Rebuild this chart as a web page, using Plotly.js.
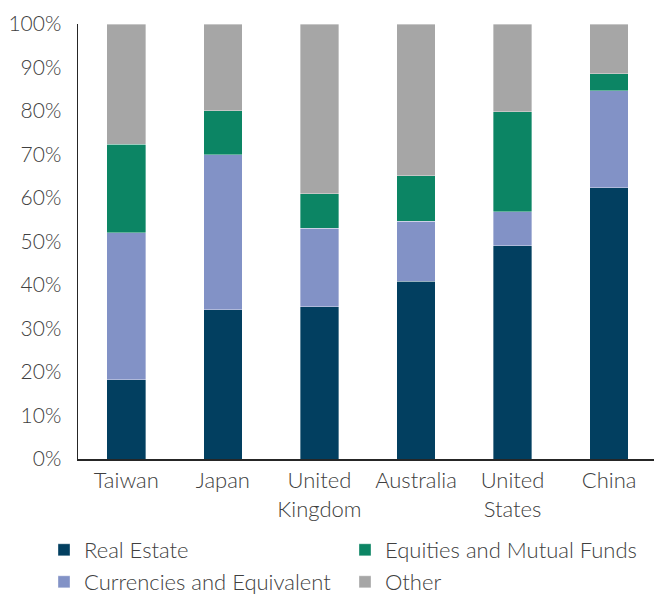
<!DOCTYPE html>
<html>
<head>
<meta charset="utf-8">
<script src="https://cdn.plot.ly/plotly-3.0.1.min.js"></script>
<style>html,body{margin:0;padding:0;background:#fff;}#chart{width:654px;height:596px;}</style>
</head>
<body>
<div id="chart"></div>
<script>
const categories = ["Taiwan", "Japan", "United<br>Kingdom", "Australia", "United<br>States", "China"];
const realEstate = [18.2, 34.3, 35.0, 40.9, 49.0, 62.4];
const currencies = [33.8, 35.7, 18.1, 13.7, 7.8, 22.2];
const equities   = [20.4, 10.1, 7.9, 10.5, 23.0, 4.0];
const other      = [27.6, 19.9, 39.0, 34.9, 20.2, 11.4];
const yTickVals   = [0, 10, 20, 30, 40, 50, 60, 70, 80, 90, 100];
const yTickLabels = ["0%", "10%", "20%", "30%", "40%", "50%", "60%", "70%", "80%", "90%", "100%"];

const FONT = 'Lato, "Noto Sans", sans-serif';
const TXT = '#404040';
function bar(name, y, color, legendId) {
  return {
    type: 'bar', name: name, x: categories, y: y, legend: legendId,
    marker: {color: color, line: {color: 'rgba(255,255,255,0.6)', width: 0.6}},
    width: 0.4, hoverinfo: 'skip'
  };
}
const data = [
  bar('Real Estate', realEstate, '#023f60', 'legend'),
  bar('Currencies and Equivalent', currencies, '#8292c6', 'legend3'),
  bar('Equities and Mutual Funds', equities, '#0c8564', 'legend2'),
  bar('Other', other, '#a6a6a6', 'legend4')
];
function leg(xPx, yPx) {
  return {
    orientation: 'h', xref: 'container', yref: 'container',
    x: xPx / 654, y: 1 - yPx / 596, xanchor: 'left', yanchor: 'middle',
    font: {family: FONT, size: 22, color: TXT, weight: 300},
    bgcolor: 'rgba(0,0,0,0)', borderwidth: 0
  };
}
const layout = {
  width: 654, height: 596,
  barmode: 'stack',
  paper_bgcolor: '#fff', plot_bgcolor: '#fff',
  font: {family: FONT, size: 22, color: TXT, weight: 300},
  margin: {l: 78, r: 0, t: 24, b: 137, pad: 0},
  showlegend: true,
  legend: leg(44, 550),
  legend2: leg(345, 550),
  legend3: leg(44, 582),
  legend4: leg(345, 582),
  xaxis: {
    type: 'category', range: [-0.5, 5.465], showgrid: false, zeroline: false,
    showline: true, linecolor: '#262626', linewidth: 1.5, ticks: '',
    ticklabelstandoff: 1,
    tickfont: {family: FONT, size: 22, color: TXT, weight: 300}
  },
  yaxis: {
    range: [0, 100], tickmode: 'array', tickvals: yTickVals, ticktext: yTickLabels,
    showgrid: false, zeroline: false, showline: true, linecolor: '#262626', linewidth: 1.5,
    ticks: '', ticklabelstandoff: 11,
    tickfont: {family: FONT, size: 21, color: TXT, weight: 300}
  }
};
Plotly.newPlot('chart', data, layout, {displayModeBar: false, staticPlot: true});
</script>
</body>
</html>
